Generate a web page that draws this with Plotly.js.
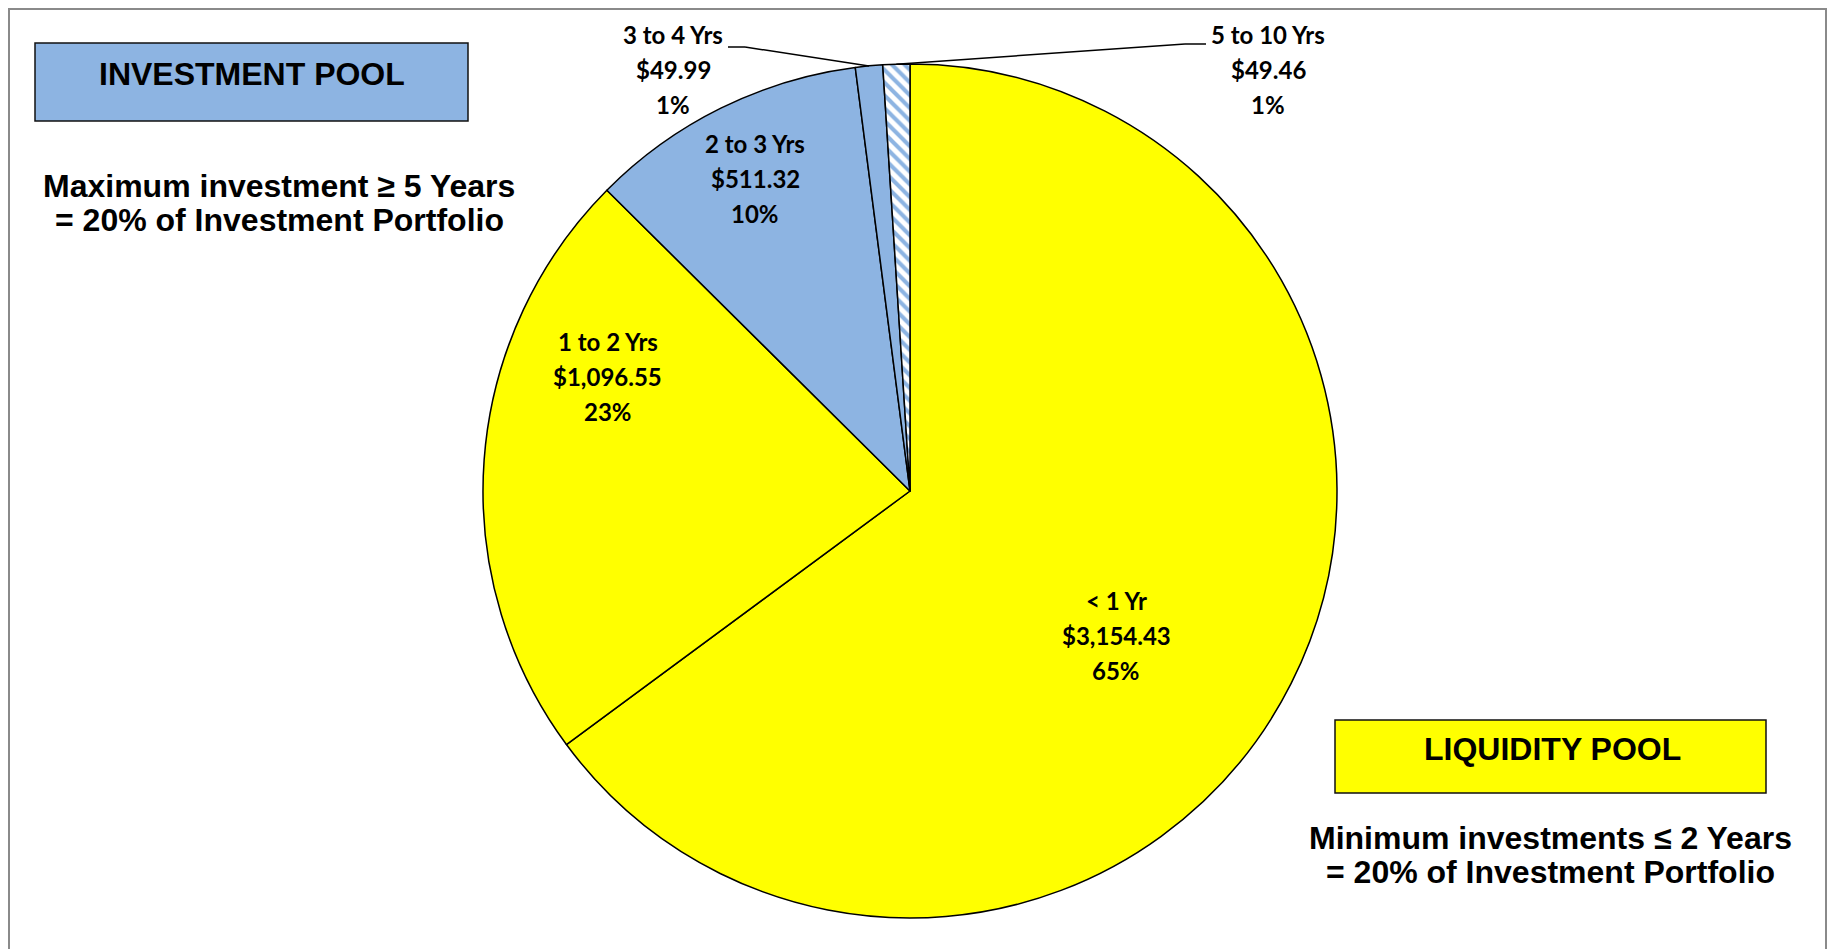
<!DOCTYPE html>
<html><head><meta charset="utf-8">
<script src="https://cdn.plot.ly/plotly-3.0.1.min.js"></script>
<style>html,body{margin:0;padding:0;background:#fff;} #chart{width:1836px;height:949px;}</style>
</head><body><div id="chart"></div>
<script>
// ---- data ----
const categories = ['< 1 Yr', '1 to 2 Yrs', '2 to 3 Yrs', '3 to 4 Yrs', '5 to 10 Yrs'];
const values = [3154.43, 1096.55, 511.32, 49.99, 49.46];
const percentLabels = ['65%', '23%', '10%', '1%', '1%'];
const sliceColors = ['#FFFF00', '#FFFF00', '#8DB4E2', '#8DB4E2', '#FFFFFF'];
const slicePatterns = ['', '', '', '', '\\'];

// ---- layout constants (pixels) ----
const W = 1836, H = 949;
const CX = 910, CY = 491, R = 427;
const px = x => x / W, py = y => 1 - y / H;
const LBL = 'Lato, "Open Sans", sans-serif';
const ARIAL = '"Liberation Sans", Arial, sans-serif';

function money(v) {
  return '$' + v.toLocaleString('en-US', {minimumFractionDigits: 2, maximumFractionDigits: 2});
}

// slice angles from data (clockwise from 12 o'clock)
const total = values.reduce((a, b) => a + b, 0);
let cum = 0;
const midAngle = values.map(v => { const a = (cum + v / 2) / total * 360; cum += v; return a; });
function polar(angDeg, r) {
  const t = angDeg * Math.PI / 180;
  return [CX + r * Math.sin(t), CY - r * Math.cos(t)];
}

// inside label placement (angle shift from slice middle, radius fraction)
const insideShift = [8.2, 16.5, 0];
const insideRadius = [0.59, 0.757, 0.817];
const LINE = 35;

const annotations = [];
function ann(text, x, y, size, family) {
  annotations.push({xref: 'paper', yref: 'paper', x: px(x), y: py(y), xanchor: 'center', yanchor: 'middle',
    text: '<b>' + text + '</b>', showarrow: false, font: {family: family, size: size, color: '#000'}});
}
function labelBlock(i, x, y) {
  ann(categories[i], x, y - LINE, 24, LBL);
  ann(money(values[i]), x, y, 24, LBL);
  ann(percentLabels[i], x, y + LINE, 24, LBL);
}
for (let i = 0; i < 3; i++) {
  const [x, y] = polar(midAngle[i] + insideShift[i], insideRadius[i] * R);
  labelBlock(i, x, y);
}
// outside labels
labelBlock(3, 673, 70);
labelBlock(4, 1268, 70);

// pool captions
ann('INVESTMENT POOL', 252, 74, 32, ARIAL);
ann('Maximum investment \u2265 5 Years', 279, 186, 32, ARIAL);
ann('= 20% of Investment Portfolio', 279, 220, 32, ARIAL);
ann('LIQUIDITY POOL', 1552, 749, 32, ARIAL);
ann('Minimum investments \u2264 2 Years', 1550, 838, 32, ARIAL);
ann('= 20% of Investment Portfolio', 1550, 872, 32, ARIAL);

const shapes = [];
function line(x0, y0, x1, y1) {
  shapes.push({type: 'line', xref: 'paper', yref: 'paper', x0: px(x0), y0: py(y0), x1: px(x1), y1: py(y1),
    line: {color: '#000', width: 1.5}, layer: 'above'});
}
// leader lines to the small slices
const tip3 = polar(midAngle[3], R), tip4 = polar(midAngle[4], R);
line(728, 47, 745, 47); line(745, 47, tip3[0], tip3[1]);
line(1206, 44, 1185, 44); line(1185, 44, tip4[0], tip4[1]);

// outer border
shapes.push({type: 'rect', xref: 'paper', yref: 'paper', x0: px(9), x1: px(1826), y0: py(9), y1: py(975),
  line: {color: '#8a8a8a', width: 2}, fillcolor: 'rgba(0,0,0,0)', layer: 'above'});
// pool boxes
shapes.push({type: 'rect', xref: 'paper', yref: 'paper', x0: px(35), x1: px(468), y0: py(43), y1: py(121),
  line: {color: '#111', width: 1.5}, fillcolor: '#8DB4E2', layer: 'below'});
shapes.push({type: 'rect', xref: 'paper', yref: 'paper', x0: px(1335), x1: px(1766), y0: py(720), y1: py(793),
  line: {color: '#111', width: 1.5}, fillcolor: '#FFFF00', layer: 'below'});

const trace = {
  type: 'pie', labels: categories, values: values, sort: false, direction: 'clockwise', rotation: 0,
  marker: {colors: sliceColors, line: {color: '#000', width: 1.5},
    pattern: {shape: slicePatterns, fgcolor: '#8DB4E2', bgcolor: '#FFFFFF', size: 9, solidity: 0.45}},
  textinfo: 'none', hoverinfo: 'skip', showlegend: false,
  domain: {x: [px(CX - R), px(CX + R)], y: [py(CY + R), py(CY - R)]}
};

const layout = {
  width: W, height: H, margin: {l: 0, r: 0, t: 0, b: 0},
  paper_bgcolor: '#fff', plot_bgcolor: '#fff', showlegend: false,
  shapes: shapes, annotations: annotations
};
Plotly.newPlot('chart', [trace], layout, {staticPlot: true, displayModeBar: false});
</script></body></html>
